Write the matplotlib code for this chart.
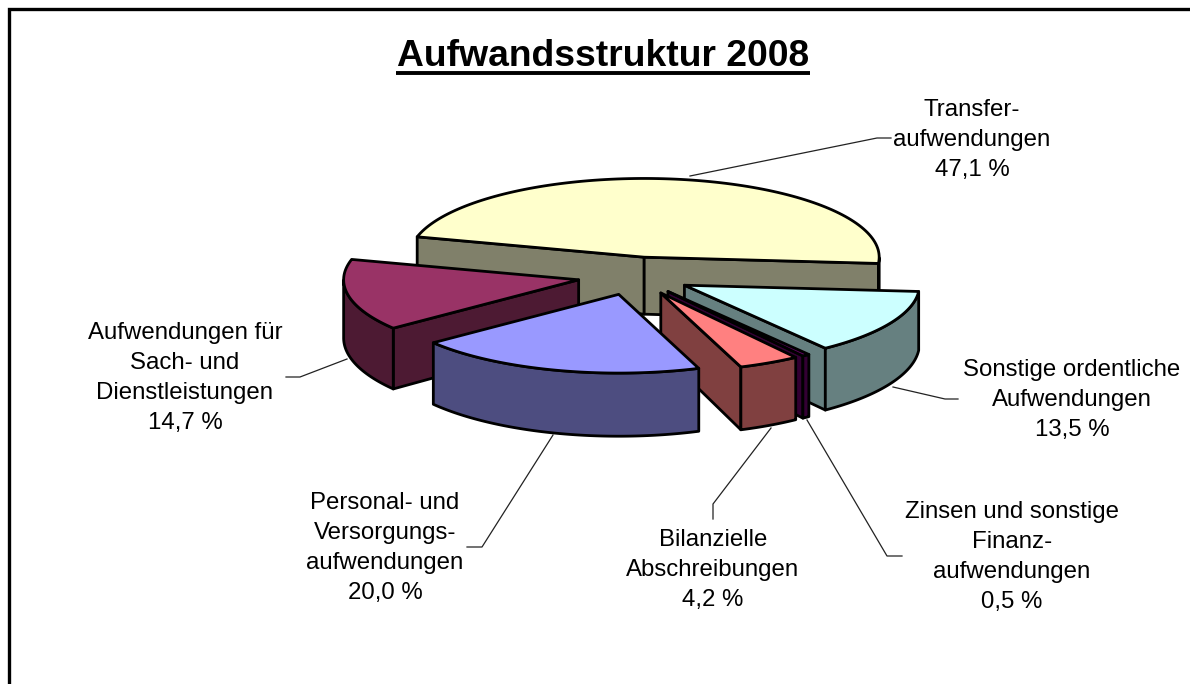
"""
Aufwandsstruktur 2008 - explodierte 3D-Torte, von Hand projiziert.
"""
import numpy as np
import matplotlib
matplotlib.use("Agg")
import matplotlib.pyplot as plt
from matplotlib.patches import Polygon

plt.rcParams["font.family"] = ["Liberation Sans", "DejaVu Sans"]

# Daten (Reihenfolge im Uhrzeigersinn)
labels = ["Transfer-\naufwendungen", "Sonstige ordentliche\nAufwendungen",
          "Zinsen und sonstige\nFinanz-\naufwendungen", "Bilanzielle\nAbschreibungen",
          "Personal- und\nVersorgungs-\naufwendungen", "Aufwendungen für\nSach- und\nDienstleistungen"]
werte = [47.1, 13.5, 0.5, 4.2, 20.0, 14.7]
farben_oben = ["#FFFFCC", "#CCFFFF", "#660066", "#FF8080", "#9999FF", "#993366"]
farben_seite = ["#80806A", "#668080", "#330033", "#804040", "#4D4D80", "#4D1A33"]

# Geometrie
CX, CY = 634.5, 276
R = 235
K = 0.335
EXPLODE = 57
START = 285
LW = 2.0

# Zeichenreihenfolge: hinten nach vorne
ORDER = [0, 5, 1, 2, 3, 4]

# Beschriftung: Mitte x, Mitte y
LABEL_POS = [(972, 140), (1072, 400), (1012, 557), (713, 570), (385, 548), (185, 378)]
LEADERS = [
    [(690, 176), (877, 138), (891, 138)],
    [(893, 387), (945, 399), (958, 399)],
    [(807, 420), (887, 556), (902, 556)],
    [(771, 428), (713, 504), (713, 519)],
    [(553, 435), (482, 547), (467, 547)],
    [(347, 359), (300, 377), (286, 377)],
]


def proj(t, r, off):
    # t: Winkel im Uhrzeigersinn ab 12 Uhr, Grad
    t = np.radians(t)
    return off[0] + r * np.sin(t), off[1] - K * r * np.cos(t)


def hoehe(y):
    return 58 + 0.053 * (y - 276)


def unten(x, y):
    return x, y + hoehe(y)


fig = plt.figure(figsize=(11.9, 6.84), dpi=100)
ax = fig.add_axes([0, 0, 1, 1])
ax.set_xlim(0, 1190)
ax.set_ylim(684, 0)
ax.axis("off")

# Rahmen (unten und rechts abgeschnitten)
ax.plot([9, 9, 1190], [684, 9, 9], color="black", lw=2.4, solid_joinstyle="miter")

# Titel
ax.text(603, 66, "Aufwandsstruktur 2008", ha="center", va="baseline", fontsize=26.8,
        fontweight="bold", color="black")
ax.plot([396, 810], [72.5, 72.5], color="black", lw=2.8, solid_capstyle="butt")

grenzen = START + np.concatenate([[0], np.cumsum(werte)]) * 3.6

z = 3
for i in ORDER:
    a, b = grenzen[i], grenzen[i + 1]
    mitte = np.radians((a + b) / 2)
    off = (CX + EXPLODE * np.sin(mitte), CY - K * EXPLODE * np.cos(mitte))
    ts = np.linspace(a, b, 120)
    bogen = [proj(t, R, off) for t in ts]
    spitze = off
    kw = dict(edgecolor="black", linewidth=LW, joinstyle="round")

    # Schnittflaechen, nur die zum Betrachter zeigenden
    for p, normale in ((bogen[0], a - 90), (bogen[-1], b + 90)):
        if np.cos(np.radians(normale)) < 0:
            quad = [spitze, p, unten(*p), unten(*spitze)]
            ax.add_patch(Polygon(quad, closed=True, facecolor=farben_seite[i], zorder=z, **kw))

    # Mantel, nur vorderer Teil
    ts_v = [t for t in ts if 90 <= (t % 360) <= 270]
    if len(ts_v) > 1:
        vorn = [proj(t, R, off) for t in ts_v]
        mantel = vorn + [unten(*p) for p in vorn[::-1]]
        ax.add_patch(Polygon(mantel, closed=True, facecolor=farben_seite[i], zorder=z, **kw))

    # Deckel
    ax.add_patch(Polygon([spitze] + bogen, closed=True, facecolor=farben_oben[i], zorder=z, **kw))
    z += 1

# Beschriftungen und Fuehrungslinien
for lab, w, pos, pts in zip(labels, werte, LABEL_POS, LEADERS):
    txt = f"{lab}\n{w:.1f} %".replace(".", ",")
    ax.text(pos[0], pos[1], txt, ha="center", va="center", fontsize=17.3,
            linespacing=1.46, color="black", zorder=20)
    xs, ys = zip(*pts)
    ax.plot(xs, ys, color="#222222", lw=0.9, zorder=1)

plt.savefig("out.png", dpi=100)
